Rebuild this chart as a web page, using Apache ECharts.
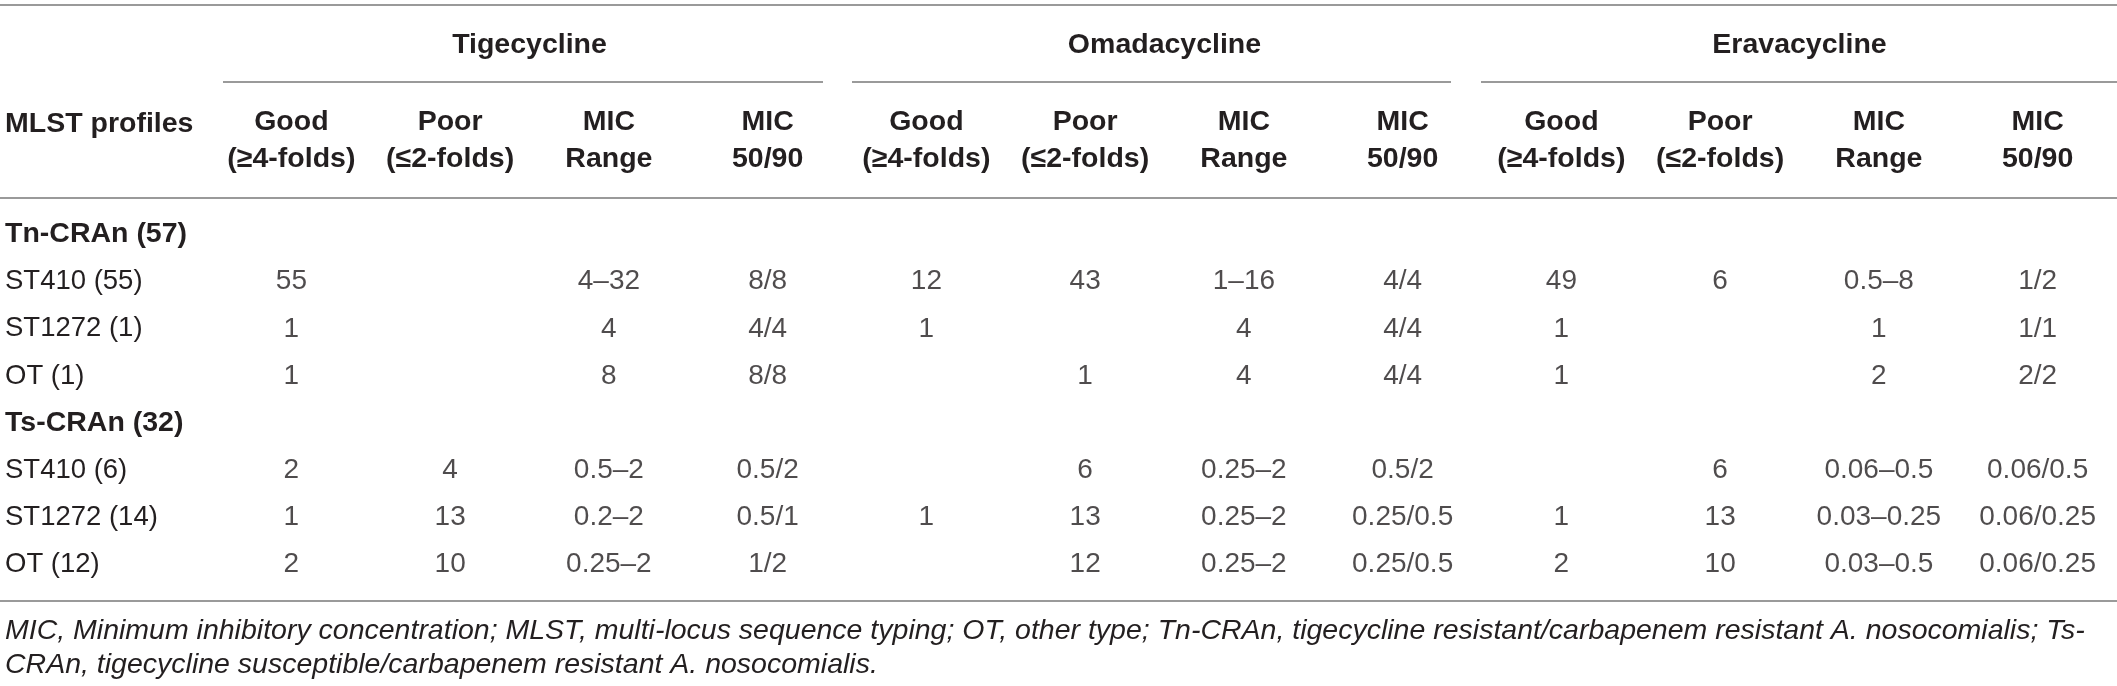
<!DOCTYPE html>
<html>
<head>
<meta charset="utf-8">
<script src="https://cdn.jsdelivr.net/npm/echarts@6/dist/echarts.min.js"></script>
<style>
    html, body {margin: 0; padding: 0; background: #fff;}
    #chart-1 {width: 2117px; height: 686px;}
</style>
</head>
<body>
<div id="chart-1"></div>
<script type="text/javascript">
    // table content
    var groups = ['Tigecycline', 'Omadacycline', 'Eravacycline'];
    var colKeys = ['tGood', 'tPoor', 'tRange', 't5090', 'oGood', 'oPoor', 'oRange', 'o5090', 'eGood', 'ePoor', 'eRange', 'e5090'];
    var headerLabels = [
        'Good\n(≥4-folds)', 'Poor\n(≤2-folds)', 'MIC\nRange', 'MIC\n50/90',
        'Good\n(≥4-folds)', 'Poor\n(≤2-folds)', 'MIC\nRange', 'MIC\n50/90',
        'Good\n(≥4-folds)', 'Poor\n(≤2-folds)', 'MIC\nRange', 'MIC\n50/90'
    ];
    var rows = ['Tn-CRAn (57)', 'ST410 (55)', 'ST1272 (1)', 'OT (1)', 'Ts-CRAn (32)', 'ST410 (6)', 'ST1272 (14)', 'OT (12)'];
    var groupRows = ['Tn-CRAn (57)', 'Ts-CRAn (32)'];

    var tigGood  = ['', '55', '1', '1', '', '2', '1', '2'];
    var tigPoor  = ['', '', '', '', '', '4', '13', '10'];
    var tigRange = ['', '4–32', '4', '8', '', '0.5–2', '0.2–2', '0.25–2'];
    var tig5090  = ['', '8/8', '4/4', '8/8', '', '0.5/2', '0.5/1', '1/2'];
    var omaGood  = ['', '12', '1', '', '', '', '1', ''];
    var omaPoor  = ['', '43', '', '1', '', '6', '13', '12'];
    var omaRange = ['', '1–16', '4', '4', '', '0.25–2', '0.25–2', '0.25–2'];
    var oma5090  = ['', '4/4', '4/4', '4/4', '', '0.5/2', '0.25/0.5', '0.25/0.5'];
    var eraGood  = ['', '49', '1', '1', '', '', '1', '2'];
    var eraPoor  = ['', '6', '', '', '', '6', '13', '10'];
    var eraRange = ['', '0.5–8', '1', '2', '', '0.06–0.5', '0.03–0.25', '0.03–0.5'];
    var era5090  = ['', '1/2', '1/1', '2/2', '', '0.06/0.5', '0.06/0.25', '0.06/0.25'];

    var footnoteLines = [
        'MIC, Minimum inhibitory concentration; MLST, multi-locus sequence typing; OT, other type; Tn-CRAn, tigecycline resistant/carbapenem resistant A. nosocomialis; Ts-',
        'CRAn, tigecycline susceptible/carbapenem resistant A. nosocomialis.'
    ];

    var columns = [tigGood, tigPoor, tigRange, tig5090, omaGood, omaPoor, omaRange, oma5090, eraGood, eraPoor, eraRange, era5090];

    var FONT = '"Liberation Sans", Arial, sans-serif';
    var INK = '#231f20';
    var RULE = '#9a9a9a';

    // one cell per non-empty value
    var cells = [];
    columns.forEach(function (col, ci) {
        col.forEach(function (txt, ri) {
            if (txt !== '') {
                cells.push({value: [ci, ri], t: txt});
            }
        });
    });

    function rule(x1, x2, y) {
        return {
            type: 'line',
            silent: true,
            shape: {x1: x1, y1: y, x2: x2, y2: y},
            style: {stroke: RULE, lineWidth: 2}
        };
    }

    var myChart = echarts.init(document.getElementById('chart-1'), null, {renderer: 'canvas'});
    var option = {
        animation: false,
        backgroundColor: '#fff',
        grid: [
            {left: 212, right: 0, top: 211, height: 377},
            {left: 212, right: 0, top: 82, height: 1}
        ],
        xAxis: [
            {
                type: 'category',
                gridIndex: 0,
                position: 'top',
                data: colKeys,
                axisLine: {show: false},
                axisTick: {show: false},
                splitLine: {show: false},
                axisLabel: {
                    interval: 0,
                    margin: 33,
                    color: INK,
                    fontFamily: FONT,
                    fontWeight: 'bold',
                    fontSize: 28.5,
                    lineHeight: 37,
                    align: 'center',
                    formatter: function (value, index) {
                        return headerLabels[index];
                    }
                }
            },
            {
                type: 'category',
                gridIndex: 1,
                position: 'top',
                data: groups,
                axisLine: {show: false},
                axisTick: {show: false},
                splitLine: {show: false},
                axisLabel: {
                    interval: 0,
                    margin: 19,
                    color: INK,
                    fontFamily: FONT,
                    fontWeight: 'bold',
                    fontSize: 28.5,
                    lineHeight: 36
                }
            }
        ],
        yAxis: [
            {
                type: 'category',
                gridIndex: 0,
                inverse: true,
                data: rows,
                axisLine: {show: false},
                axisTick: {show: false},
                splitLine: {show: false},
                axisLabel: {
                    interval: 0,
                    margin: 207,
                    align: 'left',
                    formatter: function (value) {
                        return groupRows.indexOf(value) >= 0 ? '{g|' + value + '}' : '{r|' + value + '}';
                    },
                    rich: {
                        g: {fontFamily: FONT, fontWeight: 'bold', fontSize: 28.5, color: INK},
                        r: {fontFamily: FONT, fontSize: 27.5, color: INK}
                    }
                }
            },
            {type: 'value', gridIndex: 1, show: false}
        ],
        series: [
            {
                type: 'scatter',
                xAxisIndex: 0,
                yAxisIndex: 0,
                silent: true,
                symbolSize: 2,
                itemStyle: {color: 'rgba(0,0,0,0)'},
                label: {
                    show: true,
                    position: 'inside',
                    color: INK,
                    fontFamily: FONT,
                    fontSize: 28,
                    formatter: function (p) {
                        return p.data.t;
                    }
                },
                emphasis: {disabled: true},
                data: cells
            }
        ],
        graphic: [
            rule(0, 2117, 5),
            rule(223, 823, 82),
            rule(852, 1451, 82),
            rule(1481, 2117, 82),
            rule(0, 2117, 198),
            rule(0, 2117, 601),
            {
                type: 'text',
                silent: true,
                style: {
                    x: 5, y: 124, text: 'MLST profiles', fill: INK,
                    fontFamily: FONT, fontWeight: 'bold', fontSize: 28.5, verticalAlign: 'middle'
                }
            },
            {
                type: 'text',
                silent: true,
                style: {
                    x: 5, y: 631, text: footnoteLines[0], fill: INK,
                    fontFamily: FONT, fontStyle: 'italic', fontSize: 28.5, verticalAlign: 'middle'
                }
            },
            {
                type: 'text',
                silent: true,
                style: {
                    x: 5, y: 665, text: footnoteLines[1], fill: INK,
                    fontFamily: FONT, fontStyle: 'italic', fontSize: 28.5, verticalAlign: 'middle'
                }
            }
        ]
    };
    myChart.setOption(option);
</script>
</body>
</html>
